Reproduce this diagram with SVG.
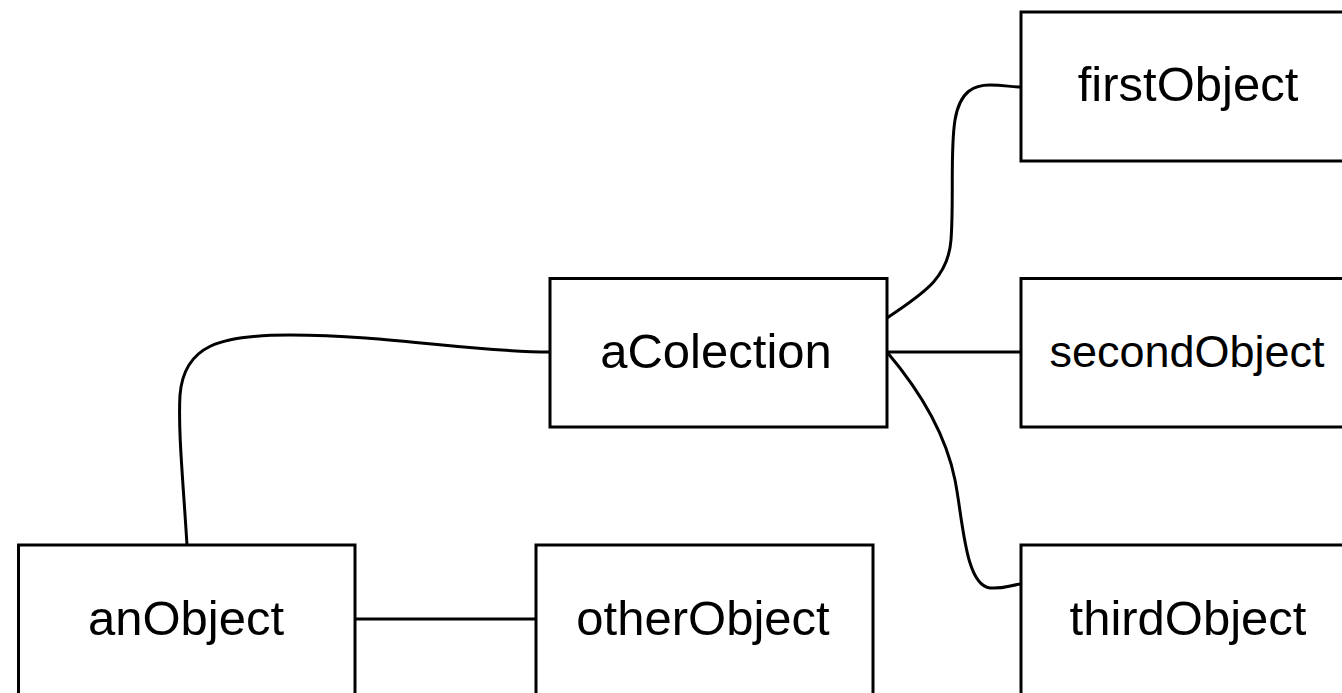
<svg xmlns="http://www.w3.org/2000/svg" width="1342" height="693" viewBox="0 0 1342 693">
<style>
.box{fill:#fff;stroke:#000;stroke-width:3}
.lbl{font-family:"Liberation Sans",Arial,sans-serif;font-size:49px;fill:#000;text-anchor:middle}
.edge{fill:none;stroke:#000;stroke-width:3}
</style>
<rect width="1342" height="693" fill="#fff"/>
<g id="connectors">
<path class="edge" d="M187,545 C183,480 178,430 180,395 C184,345 220,335 290,335 C390,335 470,352 550,352"/>
<path class="edge" d="M887,318 C920,295 948,280 951,240 C954,200 950,150 955,120 C960,90 975,85 990,85 C1005,85 1010,87 1021,87"/>
<path class="edge" d="M887,352 L1021,352"/>
<path class="edge" d="M887,352 C915,385 945,430 955,480 C963,520 965,585 990,588 C1005,589 1010,585 1021,584"/>
<path class="edge" d="M355,619 L536,619"/>
</g>
<g id="anObject"><rect class="box" x="18.5" y="545" width="336.5" height="150"/><text class="lbl" x="186" y="635">anObject</text></g>
<g id="otherObject"><rect class="box" x="536" y="545" width="337" height="150"/><text class="lbl" x="703" y="635">otherObject</text></g>
<g id="aColection"><rect class="box" x="550" y="278.5" width="337" height="148.5"/><text class="lbl" x="716" y="368">aColection</text></g>
<g id="firstObject"><rect class="box" x="1021" y="12" width="340" height="149"/><text class="lbl" x="1188" y="101">firstObject</text></g>
<g id="secondObject"><rect class="box" x="1021" y="278.5" width="340" height="148.5"/><text class="lbl" x="1187" y="367" style="font-size:45px">secondObject</text></g>
<g id="thirdObject"><rect class="box" x="1021" y="545" width="340" height="150"/><text class="lbl" x="1188" y="635">thirdObject</text></g>
</svg>
